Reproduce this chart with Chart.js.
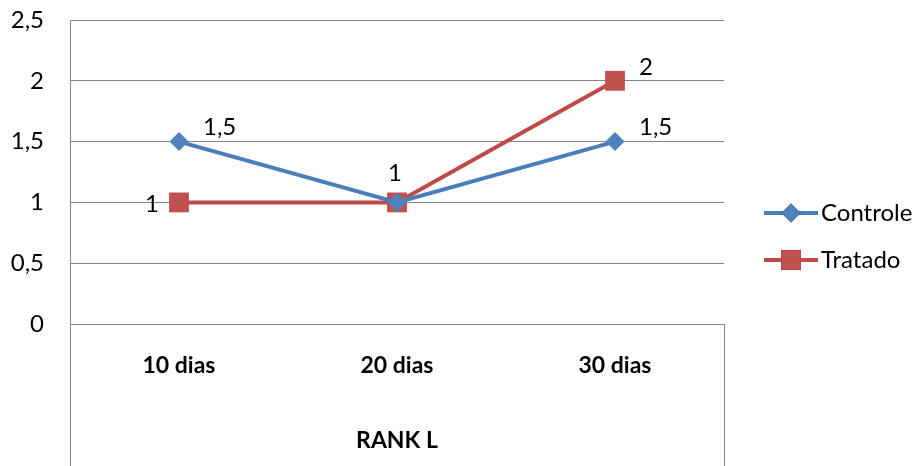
<!DOCTYPE html>
<html>
<head>
<meta charset="utf-8">
<script src="https://cdn.jsdelivr.net/npm/chart.js@4.4.1/dist/chart.umd.min.js"></script>
<style>
  html, body { margin: 0; padding: 0; background: #fff; }
  #wrap { width: 920px; height: 466px; position: relative; }
</style>
</head>
<body>
<div id="wrap"><canvas id="chart"></canvas></div>
<script>
// chart data
const categories = ['10 dias', '20 dias', '30 dias'];
const controle = [1.5, 1, 1.5];
const tratado = [1, 1, 2];
const yTicks = [0, 0.5, 1, 1.5, 2, 2.5];
const axisTitle = 'RANK L';

const FONT = 'Lato, "Open Sans", sans-serif';
const GRID = '#868686';

// where each value label sits relative to its point (null = hidden)
const labelSides = {
    Controle: ['right', 'top', 'right'],
    Tratado: ['left', null, 'right']
};

const fmt = v => String(v).replace('.', ',');

// frame lines, value labels and the line+marker legend
const extras = {
    id: 'extras',
    afterDraw(chart) {
        const ctx = chart.ctx;
        const area = chart.chartArea;
        const h = chart.height;
        ctx.save();
        ctx.strokeStyle = GRID;
        ctx.lineWidth = 1;
        ctx.beginPath();
        ctx.moveTo(Math.round(area.left) + 0.5, area.top);
        ctx.lineTo(Math.round(area.left) + 0.5, h);
        ctx.moveTo(Math.round(area.right) + 0.5, area.bottom);
        ctx.lineTo(Math.round(area.right) + 0.5, h);
        ctx.stroke();

        // value labels
        ctx.font = '24px ' + FONT;
        ctx.fillStyle = '#000';
        chart.data.datasets.forEach((ds, di) => {
            const meta = chart.getDatasetMeta(di);
            const sides = labelSides[ds.label];
            meta.data.forEach((pt, i) => {
                const side = sides[i];
                if (!side) return;
                const txt = fmt(ds.data[i]);
                ctx.textBaseline = 'middle';
                if (side === 'right') {
                    ctx.textAlign = 'left';
                    ctx.fillText(txt, pt.x + 24, pt.y - 14);
                } else if (side === 'left') {
                    ctx.textAlign = 'right';
                    ctx.fillText(txt, pt.x - 20, pt.y + 2);
                } else {
                    ctx.textAlign = 'center';
                    ctx.fillText(txt, pt.x - 2, pt.y - 29);
                }
            });
        });

        // legend
        const legendY = [213, 260];
        chart.data.datasets.forEach((ds, di) => {
            const y = legendY[di];
            ctx.strokeStyle = ds.borderColor;
            ctx.lineWidth = 4;
            ctx.beginPath();
            ctx.moveTo(764, y);
            ctx.lineTo(818, y);
            ctx.stroke();
            Chart.helpers.drawPoint(ctx, {
                pointStyle: ds.pointStyle,
                radius: ds.pointRadius,
                borderWidth: 0
            }, 791, y);
            ctx.fillStyle = ds.pointBackgroundColor;
            ctx.fill();
            ctx.fillStyle = '#000';
            ctx.textAlign = 'left';
            ctx.textBaseline = 'middle';
            ctx.fillText(ds.label, 821, y);
        });
        ctx.restore();
    }
};

new Chart(document.getElementById('chart'), {
    type: 'line',
    data: {
        labels: categories,
        datasets: [
            {
                label: 'Controle',
                data: controle,
                borderColor: '#4A7EBB',
                borderWidth: 4,
                pointStyle: 'rectRot',
                pointRadius: 9.5,
                pointBackgroundColor: '#4F81BD',
                pointBorderWidth: 0,
                tension: 0
            },
            {
                label: 'Tratado',
                data: tratado,
                borderColor: '#BE4B48',
                borderWidth: 4,
                pointStyle: 'rect',
                pointRadius: 14,
                pointBackgroundColor: '#C0504D',
                pointBorderWidth: 0,
                tension: 0
            }
        ]
    },
    options: {
        responsive: true,
        maintainAspectRatio: false,
        animation: false,
        layout: { padding: { top: 20, right: 196, left: 0, bottom: 0 } },
        plugins: {
            legend: { display: false },
            tooltip: { enabled: false }
        },
        scales: {
            x: {
                offset: true,
                grid: { display: false, drawTicks: false },
                border: { display: false },
                ticks: {
                    color: '#000',
                    font: { family: FONT, size: 23, weight: 'bold' },
                    padding: 28,
                    maxRotation: 0
                },
                title: {
                    display: true,
                    text: axisTitle,
                    color: '#000',
                    font: { family: FONT, size: 23, weight: 'bold' },
                    padding: { top: 0, bottom: 12 }
                },
                afterFit(scale) {
                    scale.height = 142;
                    scale.paddingLeft = 0;
                    scale.paddingRight = 0;
                }
            },
            y: {
                min: 0,
                max: 2.5,
                afterBuildTicks(scale) {
                    scale.ticks = yTicks.map(v => ({ value: v }));
                },
                grid: { color: GRID, lineWidth: 1, drawTicks: false },
                border: { display: false },
                ticks: {
                    color: '#000',
                    font: { family: FONT, size: 24 },
                    padding: 26,
                    callback: v => fmt(v)
                },
                afterFit(scale) {
                    scale.width = 70;
                    scale.paddingTop = 0;
                    scale.paddingBottom = 0;
                }
            }
        }
    },
    plugins: [extras]
});
</script>
</body>
</html>
